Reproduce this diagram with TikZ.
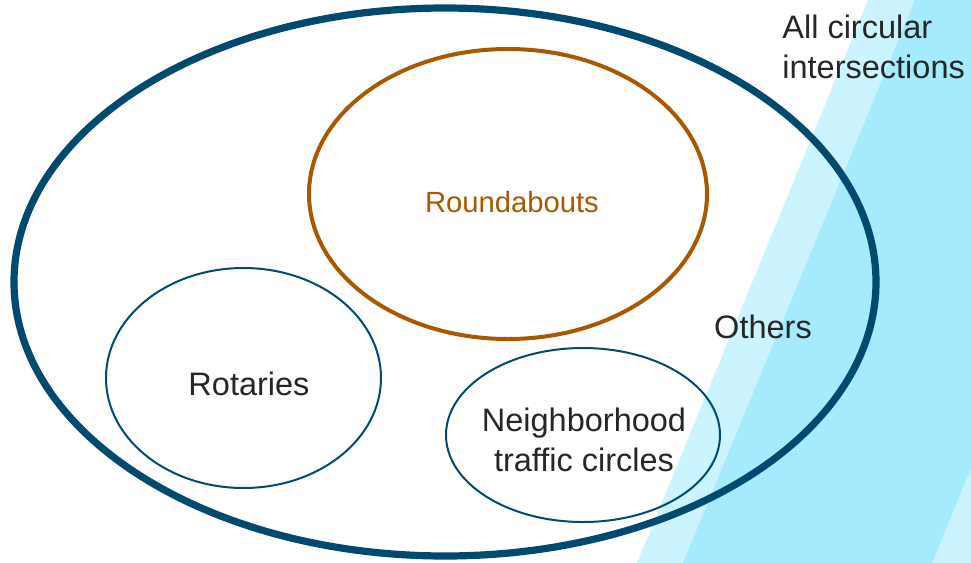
\documentclass[tikz,border=0pt]{standalone}
\usepackage{fontspec}
\setmainfont{Liberation Sans}
\usetikzlibrary{positioning}

\definecolor{setblue}{HTML}{004A6F}
\definecolor{setorange}{HTML}{A85800}
\definecolor{textgray}{HTML}{262626}
\definecolor{stripelight}{HTML}{CCF4FE}
\definecolor{stripedark}{HTML}{A5EBFD}

\begin{document}
\begin{tikzpicture}[x=0.5pt,y=-0.5pt,
	outer set/.style={draw=setblue,line width=3.6pt},
	main set/.style={draw=setorange,line width=2pt},
	sub set/.style={draw=setblue,line width=1pt},
	set label/.style={text=textgray,font=\fontsize{16.25}{20}\selectfont,inner sep=0pt,align=center}]
	
	\useasboundingbox (0,0) rectangle (971,563);
	
	% background stripes
	\fill[stripelight] (868,0) -- (971,0) -- (971,563) -- (637,563) -- cycle;
	\fill[stripedark] (915,0) -- (971,0) -- (971,468) -- (932,563) -- (683,563) -- cycle;
	
	% sets
	\coordinate (all) at (445,282);
	\coordinate (round) at (508,194);
	\coordinate (rot) at (243.5,378);
	\coordinate (nbh) at (583,435);
	
	\draw[outer set] (all) ellipse [x radius=431, y radius=274];
	\draw[main set] (round) ellipse [x radius=199, y radius=145];
	\draw[sub set] (rot) ellipse [x radius=137.5, y radius=110];
	\draw[sub set] (nbh) ellipse [x radius=137, y radius=87];
	
	% labels
	\node[set label,text=setorange,font=\fontsize{14.6}{18}\selectfont] (roundlbl) at (512,202) {Roundabouts};
	\node[set label] (rotlbl) at (249,384) {Rotaries};
	\node[set label] (nbhlbl) at (584,440) {Neighborhood\\traffic circles};
	\node[set label] (others) at (763,327) {Others};
	\node[set label,align=left,anchor=west] (alllbl) at (782,47) {All circular\\intersections};
\end{tikzpicture}
\end{document}
